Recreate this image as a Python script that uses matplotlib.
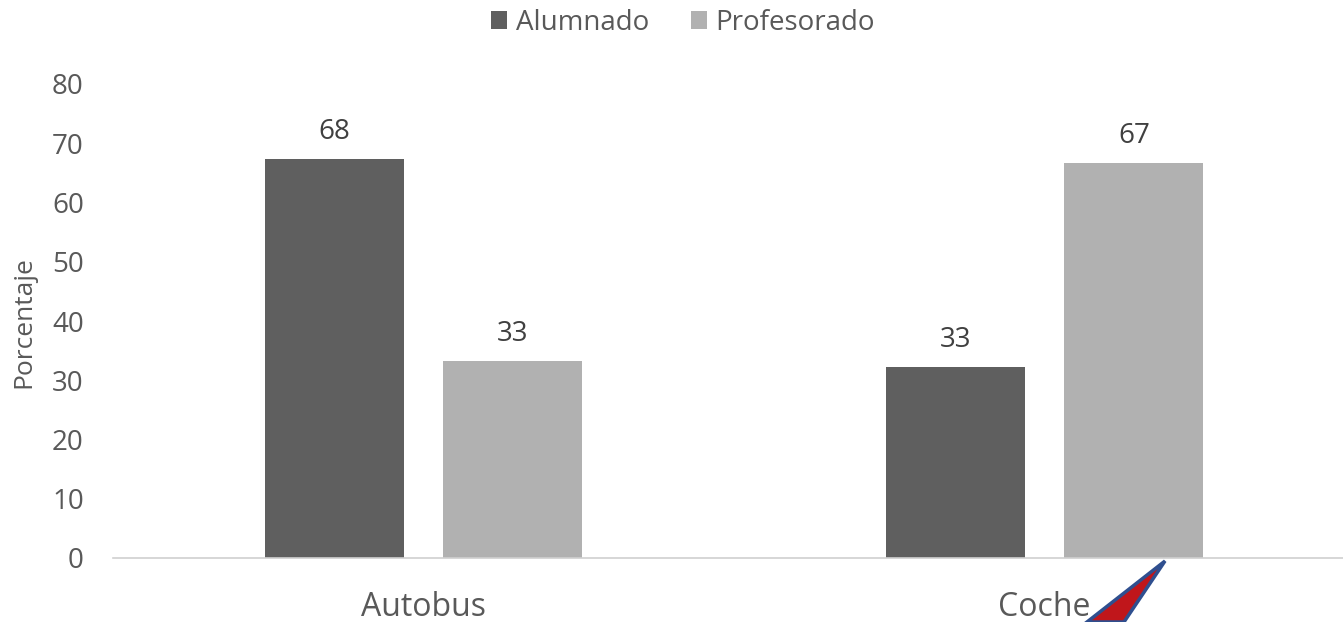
import matplotlib.pyplot as plt
from matplotlib.patches import Polygon

categories = ["Autobus", "Coche"]
series_names = ["Alumnado", "Profesorado"]
alumnado = [67.4, 32.3]
profesorado = [33.2, 66.7]
labels_alumnado = ["68", "33"]
labels_profesorado = ["33", "67"]
yticks = [0, 10, 20, 30, 40, 50, 60, 70, 80]

W, H = 1343, 622
fig = plt.figure(figsize=(W / 100, H / 100), dpi=100)
plt.rcParams['font.family'] = ['Open Sans', 'DejaVu Sans']
txt = '#595959'

ax = fig.add_axes([113 / W, 1 - 558 / H, (1355 - 113) / W, (558 - 84) / H])
x = list(range(len(categories)))
bw = 0.224
off = 0.144
c1, c2 = '#5f5f5f', '#b1b1b1'
b1 = ax.bar([i - off for i in x], alumnado, bw, color=c1, label=series_names[0])
b2 = ax.bar([i + off for i in x], profesorado, bw, color=c2, label=series_names[1])
for rect, lab in zip(b1, labels_alumnado):
    ax.text(rect.get_x() + rect.get_width() / 2, rect.get_height() + 2.2, lab,
            ha='center', va='bottom', fontsize=20, color='#404040')
for rect, lab in zip(b2, labels_profesorado):
    ax.text(rect.get_x() + rect.get_width() / 2, rect.get_height() + 2.2, lab,
            ha='center', va='bottom', fontsize=20, color='#404040')

ax.set_xlim(-0.5, 1.5)
ax.set_ylim(0, 80)
ax.set_yticks(yticks)
ax.set_xticks(x)
ax.set_xticklabels(categories)
for s in ['top', 'right', 'left']:
    ax.spines[s].set_visible(False)
ax.spines['bottom'].set_color('#d0d0d0')
ax.spines['bottom'].set_linewidth(1.2)
ax.tick_params(axis='y', length=0, labelsize=20, labelcolor=txt, pad=21)
ax.tick_params(axis='x', length=0, labelsize=23, labelcolor=txt, pad=24)

fig.text(24 / W, 1 - 322 / H, 'Porcentaje', rotation=90, ha='center',
         va='center', fontsize=19, color=txt)

fig.legend(handles=[b1, b2], labels=series_names, loc='center',
           bbox_to_anchor=(683 / W, 1 - 23 / H), ncol=2, frameon=False,
           fontsize=20, labelcolor=txt, handlelength=0.6, handleheight=0.6,
           handletextpad=0.3, columnspacing=1.5)

# red pointer overlay
pts = [(1165, 561), (1124, 622), (1087, 622)]
poly = Polygon([(px / W, 1 - py / H) for px, py in pts], closed=True,
               transform=fig.transFigure, facecolor='#c0161b',
               edgecolor='#2f4f8f', linewidth=2.5, clip_on=False)
fig.patches.append(poly)

fig.savefig('out.png', dpi=100)
